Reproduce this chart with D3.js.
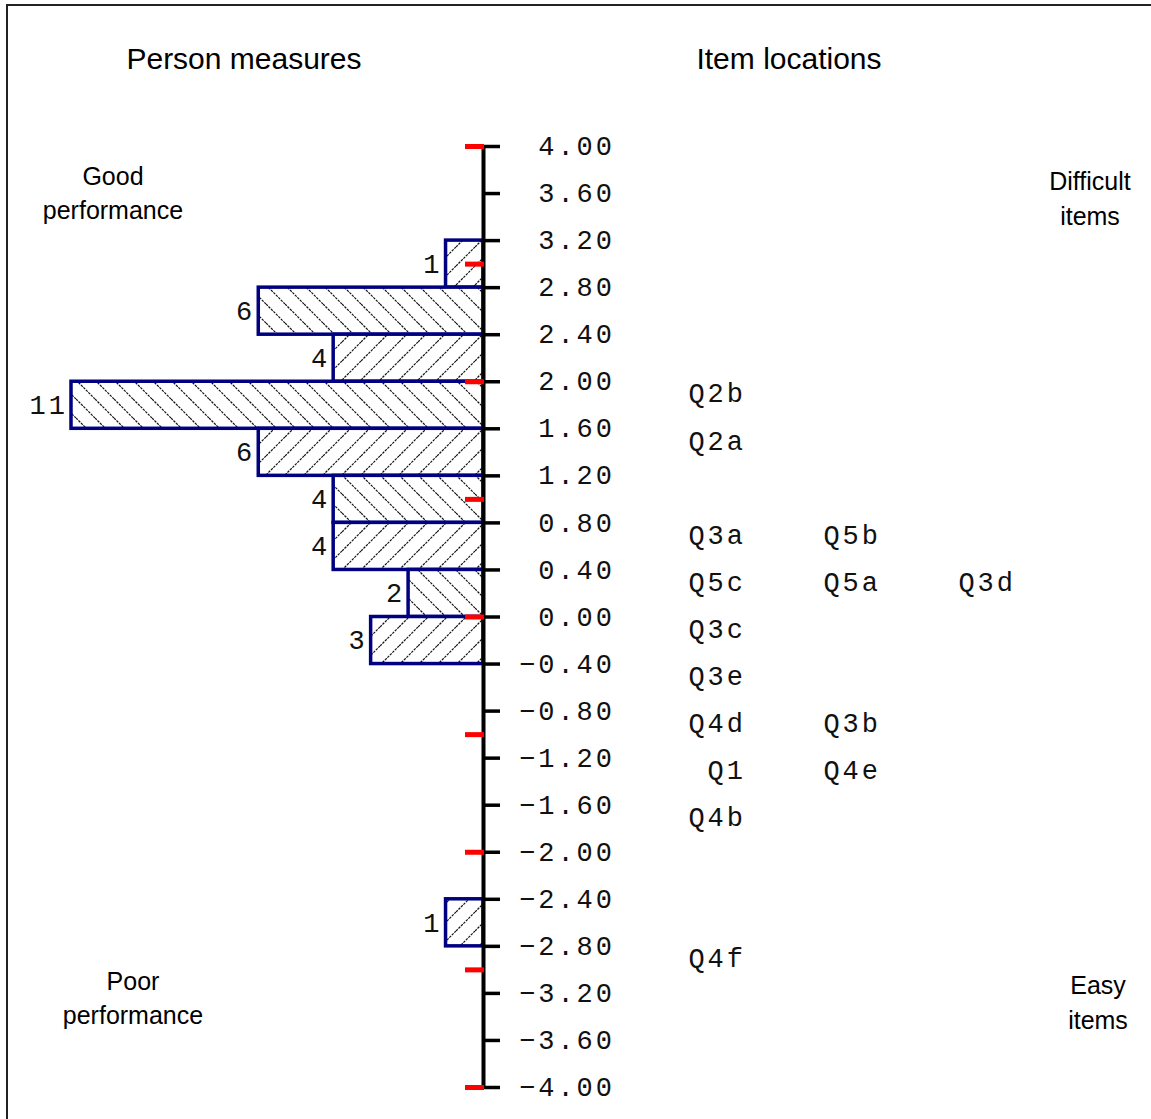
<!DOCTYPE html>
<html>
<head>
<meta charset="utf-8">
<script src="https://cdn.jsdelivr.net/npm/d3@7"></script>
<style>
  body { margin: 0; background: #fff; }
  .mono { font-family: "Liberation Mono", "Courier New", monospace; font-size: 27px; letter-spacing: 3px; fill: #111; }
  .sans { font-family: "Liberation Sans", Arial, sans-serif; fill: #000; }
</style>
</head>
<body>
<div id="chart"></div>
<script>
// person histogram: lower edge of each 0.4 logit bin and person count
const binLows = [2.8, 2.4, 2.0, 1.6, 1.2, 0.8, 0.4, 0.0, -0.4, -2.8];
const binCounts = [1, 6, 4, 11, 6, 4, 4, 2, 3, 1];
const binWidth = 0.4;

// item locations (logits) and the text column they sit in
const itemNames = ['Q2b', 'Q2a', 'Q3a', 'Q5b', 'Q5c', 'Q5a', 'Q3d', 'Q3c', 'Q3e', 'Q4d', 'Q3b', 'Q1', 'Q4e', 'Q4b', 'Q4f'];
const itemValues = [1.9, 1.5, 0.7, 0.7, 0.3, 0.3, 0.3, -0.1, -0.5, -0.9, -0.9, -1.3, -1.3, -1.7, -2.9];
const itemCols = [0, 0, 0, 1, 0, 1, 2, 0, 0, 0, 1, 0, 1, 0, 0];

const tickValues = d3.range(0, 21).map(i => -4 + i * 0.4);
const redTickValues = [-4, -3, -2, -1, 0, 1, 2, 3, 4];

const width = 1151, height = 1119;
const svg = d3.select('#chart').append('svg').attr('width', width).attr('height', height);

// frame (only left and top visible)
svg.append('rect').attr('x', 7).attr('y', 5).attr('width', 1200).attr('height', 1200)
  .attr('fill', 'none').attr('stroke', '#222').attr('stroke-width', 2);

const y = d3.scaleLinear().domain([-4, 4]).range([1087, 146]);
const x = d3.scaleLinear().domain([0, 11]).range([483, 71]);
const col = d3.scalePoint().domain([0, 1, 2]).range([743, 1013]);

// hatch patterns
const defs = svg.append('defs');
[['hatchF', 'M0,19 L19,0 M-5,5 L5,-5 M14,24 L24,14'], ['hatchB', 'M0,0 L19,19 M-5,14 L5,24 M14,-5 L24,5']].forEach(([id, d]) => {
  const p = defs.append('pattern').attr('id', id).attr('patternUnits', 'userSpaceOnUse')
    .attr('width', 19).attr('height', 19);
  p.append('rect').attr('width', 19).attr('height', 19).attr('fill', '#fff');
  p.append('path').attr('d', d).attr('stroke', '#111').attr('stroke-width', 1.2).attr('stroke-dasharray', '2.5,1');
});

const bins = binLows.map((lo, i) => ({ lo, count: binCounts[i], k: Math.round((lo + 4) / binWidth) }));

svg.append('g').selectAll('rect').data(bins).enter().append('rect')
  .attr('x', d => x(d.count))
  .attr('y', d => y(d.lo + binWidth))
  .attr('width', d => x(0) - x(d.count))
  .attr('height', d => y(d.lo) - y(d.lo + binWidth))
  .attr('fill', d => d.k % 2 ? 'url(#hatchF)' : 'url(#hatchB)')
  .attr('stroke', '#000080').attr('stroke-width', 3.5);

svg.append('g').selectAll('text').data(bins).enter().append('text')
  .attr('class', 'mono')
  .attr('x', d => x(d.count) - 3)
  .attr('y', d => y(d.lo + binWidth / 2))
  .attr('dy', '0.35em')
  .attr('text-anchor', 'end')
  .text(d => d.count);

// main axis
const axis = svg.append('g').attr('transform', 'translate(483,0)')
  .call(d3.axisRight(y).tickValues(tickValues).tickSize(17).tickSizeOuter(0).tickFormat(d3.format('.2f')));
axis.select('.domain').attr('stroke', '#000').attr('stroke-width', 4);
axis.selectAll('.tick line').attr('stroke', '#000').attr('stroke-width', 3.5);
axis.selectAll('.tick text')
  .attr('class', 'mono')
  .attr('x', 132).attr('text-anchor', 'end')
  .attr('font-size', null).attr('font-family', null);
axis.attr('font-size', null).attr('font-family', null);

// red integer ticks on the left
const red = svg.append('g').attr('transform', 'translate(484,0)')
  .call(d3.axisLeft(y).tickValues(redTickValues).tickSize(19).tickSizeOuter(0).tickFormat(''));
red.select('.domain').remove();
red.selectAll('.tick line').attr('stroke', '#f00').attr('stroke-width', 5);

// item labels
svg.append('g').selectAll('text').data(itemNames).enter().append('text')
  .attr('class', 'mono')
  .attr('x', (d, i) => col(itemCols[i]) + 3)
  .attr('y', (d, i) => y(itemValues[i]))
  .attr('dy', '0.35em')
  .attr('text-anchor', 'end')
  .text(d => d);

// headings and side notes
const notes = [
  { t: 'Person measures', x: 244, y: 69, s: 30 },
  { t: 'Item locations', x: 789, y: 69, s: 30 },
  { t: 'Good', x: 113, y: 185, s: 25 },
  { t: 'performance', x: 113, y: 219, s: 25 },
  { t: 'Difficult', x: 1090, y: 190, s: 25 },
  { t: 'items', x: 1090, y: 225, s: 25 },
  { t: 'Poor', x: 133, y: 990, s: 25 },
  { t: 'performance', x: 133, y: 1024, s: 25 },
  { t: 'Easy', x: 1098, y: 994, s: 25 },
  { t: 'items', x: 1098, y: 1029, s: 25 }
];
svg.append('g').selectAll('text').data(notes).enter().append('text')
  .attr('class', 'sans')
  .attr('x', d => d.x).attr('y', d => d.y)
  .attr('text-anchor', 'middle')
  .style('font-size', d => d.s + 'px')
  .text(d => d.t);
</script>
</body>
</html>
